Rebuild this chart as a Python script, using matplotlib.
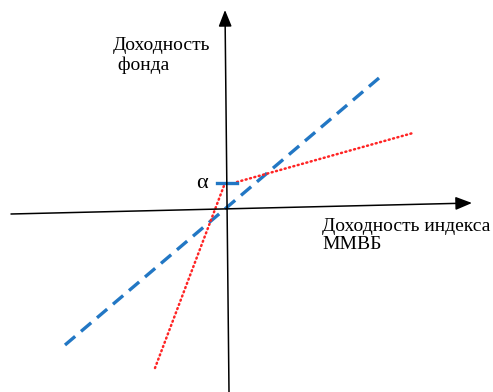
import matplotlib.pyplot as plt

# coordinates relative to the origin of the schematic (pixel-like units)
beta_line_x = [-162, 152]
beta_line_y = [-135, 132]

red_low_x = [-72, -2]
red_low_y = [-158, 27]
red_high_x = [10, 186]
red_high_y = [28, 77]

alpha_x = [-10, 10]
alpha_y = [27, 27]

x_axis_x = [-216, 245]
x_axis_y = [-4, 7]
y_axis_x = [2, -2]
y_axis_y = [-182, 200]

fig = plt.figure(figsize=(4.93, 3.92), dpi=100)
ax = fig.add_axes([0, 0, 1, 1])
ax.set_xlim(-227, 266)
ax.set_ylim(-182, 210)
ax.axis("off")

# axes with arrows
arrow = dict(arrowstyle="-|>,head_length=1.0,head_width=0.4",
             color="black", lw=1.1, shrinkA=0, shrinkB=0)
ax.annotate("", xy=(x_axis_x[1], x_axis_y[1]), xytext=(x_axis_x[0], x_axis_y[0]),
            arrowprops=arrow)
ax.annotate("", xy=(y_axis_x[1], y_axis_y[1]), xytext=(y_axis_x[0], y_axis_y[0]),
            arrowprops=arrow)

# index line (beta = 1)
ax.plot(beta_line_x, beta_line_y, color="#2277C4", lw=2.4,
        linestyle=(0, (4, 2.3)))

# fund line with alpha
red_style = dict(color="#FF2424", lw=1.8, linestyle=(0, (0.4, 1.4)),
                 dash_capstyle="round")
ax.plot(red_low_x, red_low_y, **red_style)
ax.plot(red_high_x, red_high_y, **red_style)
ax.plot(alpha_x, alpha_y, color="#2277C4", lw=2.4)

serif = ["Liberation Serif", "DejaVu Serif"]
ax.text(-25, 27, "α", fontsize=16, family=serif, ha="center", va="center")
ax.text(-114, 173, "Доходность\n фонда", fontsize=14, family=serif,
        ha="left", va="top", linespacing=1.15)
ax.text(95, -8, "Доходность индекса\nММВБ", fontsize=14, family=serif,
        ha="left", va="top", linespacing=1.05)

fig.savefig("out.png", dpi=100)
plt.close(fig)
